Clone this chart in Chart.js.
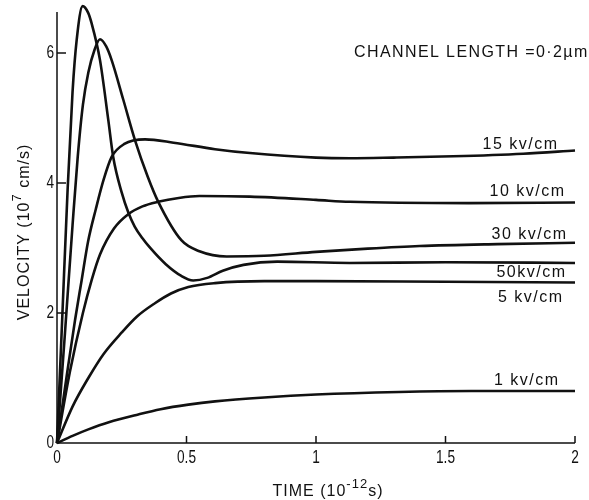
<!DOCTYPE html>
<html>
<head>
<meta charset="utf-8">
<script src="https://cdn.jsdelivr.net/npm/chart.js@4.4.1/dist/chart.umd.min.js"></script>
<style>
  html, body { margin: 0; padding: 0; background: #fff; }
  #wrap { width: 589px; height: 500px; position: relative; }
</style>
</head>
<body>
<div id="wrap"><canvas id="c"></canvas></div>
<script>
// Electron drift velocity transients (time in 1e-12 s, velocity in 1e7 cm/s)
const t1 = [0, 0.06, 0.121, 0.2, 0.314, 0.4, 0.507, 0.61, 0.8, 1.0, 1.32, 1.6, 2.0];
const v1 = [0, 0.11, 0.21, 0.32, 0.44, 0.52, 0.59, 0.64, 0.70, 0.745, 0.785, 0.80, 0.80];

const t5 = [0, 0.06, 0.121, 0.18, 0.25, 0.31, 0.378, 0.44, 0.507, 0.61, 0.8, 1.0, 1.5, 2.0];
const v5 = [0, 0.56, 1.0, 1.37, 1.70, 1.95, 2.15, 2.30, 2.40, 2.46, 2.49, 2.49, 2.48, 2.47];

const t10 = [0, 0.05, 0.1, 0.134, 0.166, 0.22, 0.275, 0.33, 0.39, 0.47, 0.55, 0.745, 1.0, 1.13, 1.59, 2.0];
const v10 = [0, 1.1, 2.0, 2.51, 2.9, 3.3, 3.52, 3.64, 3.71, 3.77, 3.80, 3.79, 3.74, 3.71, 3.69, 3.70];

const t15 = [0, 0.04, 0.07, 0.095, 0.12, 0.15, 0.18, 0.211, 0.26, 0.34, 0.45, 0.61, 0.745, 1.0, 1.13, 1.3, 1.53, 1.8, 2.0];
const v15 = [0, 1.1, 1.9, 2.5, 3.1, 3.6, 4.05, 4.40, 4.6, 4.67, 4.62, 4.52, 4.46, 4.39, 4.38, 4.39, 4.41, 4.45, 4.50];

const t30 = [0, 0.03, 0.06, 0.08, 0.1, 0.121, 0.145, 0.166, 0.19, 0.211, 0.256, 0.301, 0.35, 0.391, 0.48, 0.55, 0.655, 0.8, 1.0, 1.2, 1.4, 1.7, 2.0];
const v30 = [0, 1.65, 3.35, 4.4, 5.2, 5.7, 6.05, 6.21, 6.1, 5.89, 5.28, 4.66, 4.1, 3.71, 3.12, 2.95, 2.87, 2.88, 2.94, 2.99, 3.03, 3.06, 3.08];

const t50 = [0, 0.02, 0.041, 0.06, 0.076, 0.099, 0.12, 0.134, 0.166, 0.198, 0.217, 0.25, 0.275, 0.3, 0.33, 0.36, 0.42, 0.48, 0.526, 0.58, 0.64, 0.72, 0.85, 1.13, 1.5, 2.0];
const v50 = [0, 1.9, 3.9, 5.4, 6.2, 6.72, 6.62, 6.45, 5.89, 4.97, 4.40, 3.85, 3.55, 3.33, 3.15, 3.0, 2.75, 2.57, 2.50, 2.54, 2.65, 2.74, 2.79, 2.77, 2.78, 2.77];

const seriesLabels = ['1 kv/cm', '5 kv/cm', '10 kv/cm', '15 kv/cm', '30 kv/cm', '50kv/cm'];
const xTicks = [0, 0.5, 1, 1.5, 2];
const xTickLabels = ['0', '0.5', '1', '1.5', '2'];
const yTicks = [0, 2, 4, 6];
const yTickLabels = ['0', '2', '4', '6'];
const noteText = 'CHANNEL LENGTH =0·2\u00b5m';

const series = [[t1, v1], [t5, v5], [t10, v10], [t15, v15], [t30, v30], [t50, v50]];

// label placement relative to the end of each curve (pixels)
const labelStyle = [
  { right: 558, dy: -6 },
  { right: 562, dy: 20 },
  { right: 564, dy: -6 },
  { right: 557, dy: -1 },
  { right: 566, dy: -4 },
  { right: 565, dy: 14 }
];

const INK = '#111';
const FONT = '"Liberation Sans", Arial, sans-serif';

function spaced(ctx, px) { if ('letterSpacing' in ctx) ctx.letterSpacing = px + 'px'; }

// draws text runs in sequence; runs: [text, size, raise]
function runsWidth(ctx, runs) {
  let w = 0;
  for (const [s, size] of runs) { ctx.font = size + 'px ' + FONT; w += ctx.measureText(s).width; }
  return w;
}
function drawRuns(ctx, runs, x, y) {
  for (const [s, size, raise] of runs) {
    ctx.font = size + 'px ' + FONT;
    ctx.fillText(s, x, y - raise);
    x += ctx.measureText(s).width;
  }
}

const decor = {
  id: 'decor',
  afterDraw(chart) {
    const { ctx, scales: { x, y } } = chart;
    const x0 = x.getPixelForValue(0), y0 = y.getPixelForValue(0);
    ctx.save();
    ctx.strokeStyle = INK;
    ctx.fillStyle = INK;
    ctx.lineWidth = 1.5;
    ctx.lineCap = 'butt';

    // axes
    ctx.beginPath();
    ctx.moveTo(x0, y.getPixelForValue(y.max));
    ctx.lineTo(x0, y0);
    ctx.lineTo(x.getPixelForValue(x.max), y0);
    ctx.stroke();

    // inward ticks
    ctx.beginPath();
    yTicks.forEach(v => { if (v === 0) return; const p = y.getPixelForValue(v); ctx.moveTo(x0, p); ctx.lineTo(x0 + 9, p); });
    xTicks.forEach(v => { if (v === 0) return; const p = x.getPixelForValue(v); ctx.moveTo(p, y0); ctx.lineTo(p, y0 - 7); });
    ctx.stroke();

    // tick labels in a narrow face
    const sx = 0.72;
    ctx.font = '19px ' + FONT;
    ctx.textBaseline = 'middle';
    yTicks.forEach((v, i) => {
      const p = y.getPixelForValue(v);
      ctx.save();
      ctx.translate(54, p);
      ctx.scale(sx, 1);
      ctx.textAlign = 'right';
      ctx.fillText(yTickLabels[i], 0, 0);
      ctx.restore();
    });
    ctx.textBaseline = 'alphabetic';
    xTicks.forEach((v, i) => {
      const p = x.getPixelForValue(v);
      ctx.save();
      ctx.translate(p, 463);
      ctx.scale(sx, 1);
      ctx.textAlign = 'center';
      ctx.fillText(xTickLabels[i], 0, 0);
      ctx.restore();
    });

    // curve labels
    ctx.font = '16px ' + FONT;
    spaced(ctx, 1.5);
    ctx.textAlign = 'right';
    ctx.textBaseline = 'alphabetic';
    series.forEach(([tt, vv], i) => {
      const py = y.getPixelForValue(vv[vv.length - 1]);
      ctx.fillText(seriesLabels[i], labelStyle[i].right + 1.5, py + labelStyle[i].dy);
    });

    // note
    ctx.textAlign = 'left';
    spaced(ctx, 1.4);
    ctx.fillText(noteText, 354, 57);

    // x title: TIME (10^-12 s)
    spaced(ctx, 1);
    const xRuns = [['TIME (10', 16, 0], ['-12', 13, 8], ['s)', 16, 0]];
    const xw = runsWidth(ctx, xRuns);
    drawRuns(ctx, xRuns, 328 - xw / 2, 496);

    // y title: VELOCITY (10^7 cm/s)
    ctx.save();
    ctx.translate(29, 232);
    ctx.rotate(-Math.PI / 2);
    const yRuns = [['VELOCITY (10', 16, 0], ['7', 13, 8], [' cm/s)', 16, 0]];
    const yw = runsWidth(ctx, yRuns);
    drawRuns(ctx, yRuns, -yw / 2, 0);
    ctx.restore();

    ctx.restore();
  }
};

new Chart(document.getElementById('c'), {
  type: 'line',
  data: {
    datasets: series.map(([tt, vv], i) => ({
      label: seriesLabels[i],
      data: tt.map((t, k) => ({ x: t, y: vv[k] })),
      borderColor: INK,
      borderWidth: 2.6,
      pointRadius: 0,
      fill: false,
      cubicInterpolationMode: 'monotone',
      clip: false
    }))
  },
  options: {
    responsive: true,
    maintainAspectRatio: false,
    devicePixelRatio: 1,
    animation: false,
    layout: { padding: { left: 57, right: 14, top: 12, bottom: 57 } },
    plugins: { legend: { display: false }, tooltip: { enabled: false } },
    scales: {
      x: { type: 'linear', min: 0, max: 2, display: false },
      y: { type: 'linear', min: 0, max: 6.63, display: false }
    }
  },
  plugins: [decor]
});
</script>
</body>
</html>
